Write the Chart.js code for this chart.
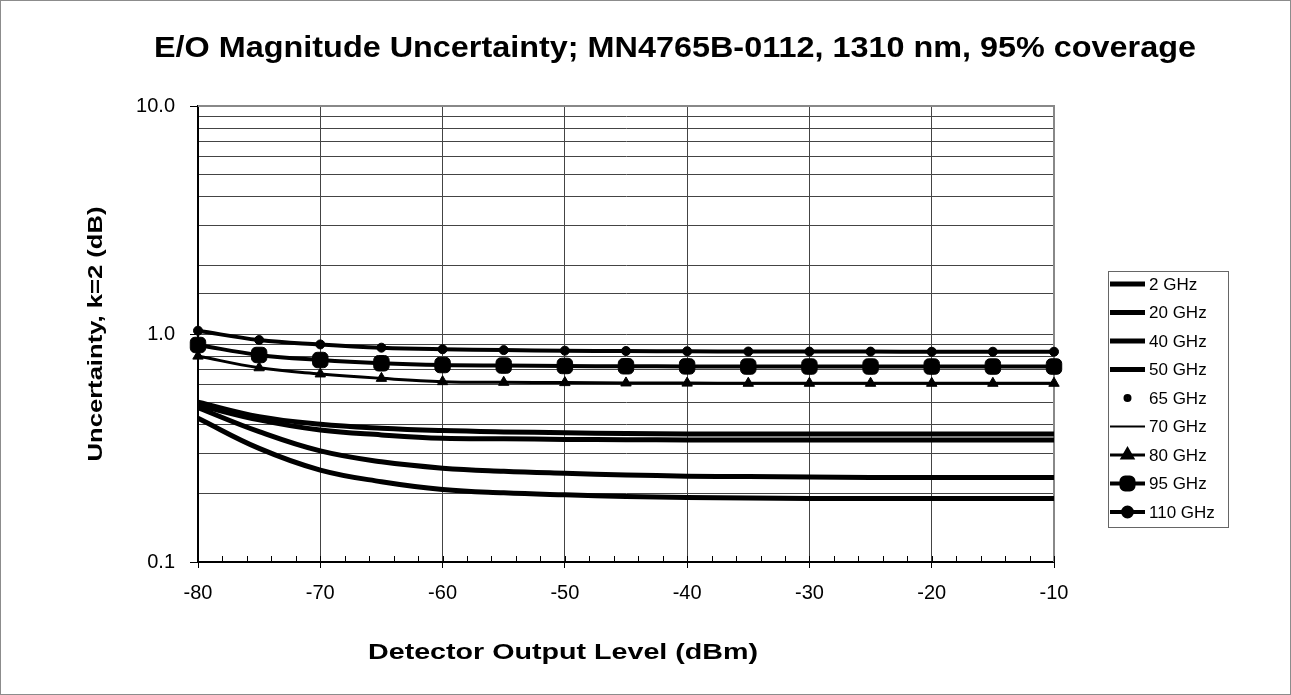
<!DOCTYPE html>
<html>
<head>
<meta charset="utf-8">
<script src="https://cdn.jsdelivr.net/npm/chart.js@4.4.0/dist/chart.umd.min.js"></script>
<style>
  html, body { margin: 0; padding: 0; background: #fff; }
</style>
</head>
<body>
<canvas id="myChart" width="1291" height="695"></canvas>
<script>
// detector output level, dBm
const levels = [-80, -75, -70, -65, -60, -55, -50, -45, -40, -35, -30, -25, -20, -15, -10];

// uncertainty per frequency, dB
const ghz2   = [0.427, 0.315, 0.253, 0.225, 0.208, 0.201, 0.197, 0.194, 0.192, 0.191, 0.190, 0.190, 0.190, 0.190, 0.190];
const ghz20  = [0.475, 0.373, 0.307, 0.275, 0.258, 0.250, 0.245, 0.241, 0.238, 0.237, 0.236, 0.235, 0.235, 0.235, 0.235];
const ghz40  = [0.488, 0.420, 0.379, 0.361, 0.349, 0.347, 0.345, 0.344, 0.343, 0.343, 0.343, 0.343, 0.343, 0.343, 0.343];
const ghz50  = [0.502, 0.434, 0.402, 0.386, 0.377, 0.372, 0.369, 0.366, 0.364, 0.364, 0.364, 0.364, 0.364, 0.364, 0.364];
const ghz65  = [1.034, 0.941, 0.900, 0.871, 0.857, 0.850, 0.845, 0.842, 0.840, 0.838, 0.837, 0.837, 0.836, 0.836, 0.836];
const ghz70  = [0.895, 0.809, 0.769, 0.744, 0.731, 0.727, 0.724, 0.722, 0.721, 0.720, 0.720, 0.720, 0.720, 0.720, 0.720];
const ghz80  = [0.800, 0.711, 0.668, 0.639, 0.618, 0.614, 0.612, 0.610, 0.609, 0.608, 0.608, 0.608, 0.608, 0.608, 0.608];
const ghz95  = [0.895, 0.809, 0.769, 0.744, 0.731, 0.727, 0.724, 0.722, 0.721, 0.720, 0.720, 0.720, 0.720, 0.720, 0.720];
const ghz110 = [1.034, 0.941, 0.900, 0.871, 0.857, 0.850, 0.845, 0.842, 0.840, 0.838, 0.837, 0.837, 0.836, 0.836, 0.836];

const seriesNames = ['2 GHz', '20 GHz', '40 GHz', '50 GHz', '65 GHz', '70 GHz', '80 GHz', '95 GHz', '110 GHz'];
const yTickLabels = [0.1, 1, 10];

const chartTitle = 'E/O Magnitude Uncertainty; MN4765B-0112, 1310 nm, 95% coverage';
const xTitle = 'Detector Output Level (dBm)';
const yTitle = 'Uncertainty, k=2 (dB)';

const FONT = '"Liberation Sans", Arial, sans-serif';

function pts(vals) {
    return vals.map((v, i) => ({ x: levels[i], y: v }));
}

// common look for every series
function series(label, vals, extra) {
    return Object.assign({
        label: label,
        data: pts(vals),
        borderColor: '#000',
        backgroundColor: '#000',
        borderWidth: 5,
        pointRadius: 0,
        tension: 0.4,
        clip: false
    }, extra);
}

const datasets = [
    series(seriesNames[0], ghz2),
    series(seriesNames[1], ghz20),
    series(seriesNames[2], ghz40),
    series(seriesNames[3], ghz50),
    series(seriesNames[4], ghz65, { showLine: false, pointRadius: 1.5, pointStyle: 'circle', borderWidth: 1 }),
    series(seriesNames[5], ghz70, { borderWidth: 2 }),
    series(seriesNames[6], ghz80, { borderWidth: 3, pointRadius: 6, pointStyle: 'triangle', pointBorderWidth: 1 }),
    series(seriesNames[7], ghz95, { borderWidth: 4, pointRadius: 9, pointStyle: 'rectRounded', pointBorderWidth: 1 }),
    series(seriesNames[8], ghz110, { borderWidth: 4, pointRadius: 4.5, pointStyle: 'circle', pointBorderWidth: 1 })
];

// Excel draws its text a bit wider than Liberation Sans, so stretch to a width
function wideText(c, text, x, y, width, angle) {
    const w = c.measureText(text).width;
    c.save();
    c.translate(x, y);
    if (angle) c.rotate(angle);
    c.scale(width / w, 1);
    c.fillText(text, 0, 0);
    c.restore();
}

// frame, titles, legend box, minor ticks
const excelLook = {
    id: 'excelLook',
    beforeDraw(chart) {
        const c = chart.ctx;
        c.save();
        c.fillStyle = '#fff';
        c.fillRect(0, 0, chart.width, chart.height);
        c.strokeStyle = '#8c8c8c';
        c.lineWidth = 1;
        c.strokeRect(0.5, 0.5, chart.width - 1, chart.height - 1);
        c.restore();
    },
    beforeDatasetsDraw(chart) {
        const c = chart.ctx, a = chart.chartArea;
        c.save();
        c.strokeStyle = '#888';
        c.lineWidth = 2;
        c.beginPath();
        c.moveTo(a.left, a.top);
        c.lineTo(a.right, a.top);
        c.lineTo(a.right, a.bottom);
        c.stroke();
        // minor ticks on the x axis, pointing inward
        const xs = chart.scales.x;
        c.strokeStyle = '#000';
        c.lineWidth = 1;
        c.beginPath();
        for (let v = xs.min; v <= xs.max; v += 2) {
            const px = Math.round(xs.getPixelForValue(v)) + 0.5;
            c.moveTo(px, a.bottom);
            c.lineTo(px, a.bottom - 6);
        }
        c.stroke();
        c.restore();
    },
    afterDraw(chart) {
        const c = chart.ctx;
        c.save();
        c.fillStyle = '#000';
        c.textAlign = 'center';
        c.textBaseline = 'alphabetic';
        c.font = 'bold 29px ' + FONT;
        wideText(c, chartTitle, 675, 57, 1042);
        c.font = 'bold 22px ' + FONT;
        wideText(c, xTitle, 563, 659, 390);
        c.textBaseline = 'middle';
        c.font = 'bold 21px ' + FONT;
        wideText(c, yTitle, 96, 334, 255, -Math.PI / 2);

        // legend
        const box = { left: 1108, top: 271, right: 1228, bottom: 527 };
        c.strokeStyle = '#666';
        c.lineWidth = 1;
        c.strokeRect(box.left + 0.5, box.top + 0.5, box.right - box.left, box.bottom - box.top);
        c.font = '17px ' + FONT;
        c.textAlign = 'left';
        c.textBaseline = 'middle';
        chart.data.datasets.forEach((ds, i) => {
            const y = 284 + i * 28.5;
            const x0 = box.left + 2, x1 = 1145;
            if (ds.showLine !== false) {
                c.strokeStyle = '#000';
                c.lineWidth = ds.borderWidth;
                c.beginPath();
                c.moveTo(x0, y);
                c.lineTo(x1, y);
                c.stroke();
            }
            if (ds.pointRadius > 0) {
                c.fillStyle = '#000';
                c.strokeStyle = '#000';
                Chart.helpers.drawPoint(c, {
                    pointStyle: ds.pointStyle,
                    radius: Math.min(ds.pointRadius, 7),
                    rotation: 0,
                    borderWidth: 1
                }, (x0 + x1) / 2, y);
            }
            c.fillStyle = '#000';
            c.fillText(ds.label, 1149, y + 1);
        });
        c.restore();
    }
};

const ctx = document.getElementById('myChart').getContext('2d');
const chart = new Chart(ctx, {
    type: 'line',
    data: { datasets: datasets },
    plugins: [excelLook],
    options: {
        responsive: false,
        animation: false,
        devicePixelRatio: 1,
        layout: { padding: { top: 106, right: 237, bottom: 0, left: 0 } },
        plugins: {
            legend: { display: false },
            tooltip: { enabled: false }
        },
        scales: {
            x: {
                type: 'linear',
                min: -80,
                max: -10,
                afterFit(scale) { scale.height = 695 - 562; },
                ticks: {
                    stepSize: 10,
                    color: '#000',
                    padding: 13,
                    font: { family: FONT, size: 20 }
                },
                grid: { color: '#444', lineWidth: 1, tickLength: 6, tickColor: '#000' },
                border: { color: '#000', width: 2 }
            },
            y: {
                type: 'logarithmic',
                min: 0.1,
                max: 10,
                afterFit(scale) { scale.width = 198; },
                ticks: {
                    autoSkip: false,
                    color: '#000',
                    padding: 15,
                    font: { family: FONT, size: 20 },
                    callback(v) {
                        return yTickLabels.some(t => Math.abs(t - v) < 1e-9) ? v.toFixed(1) : '';
                    }
                },
                grid: {
                    color: '#444',
                    lineWidth: 1,
                    tickLength: 8,
                    tickColor(c) {
                        return c.tick && yTickLabels.some(t => Math.abs(t - c.tick.value) < 1e-9) ? '#000' : 'rgba(0,0,0,0)';
                    }
                },
                border: { color: '#000', width: 2 }
            }
        }
    }
});
</script>
</body>
</html>
